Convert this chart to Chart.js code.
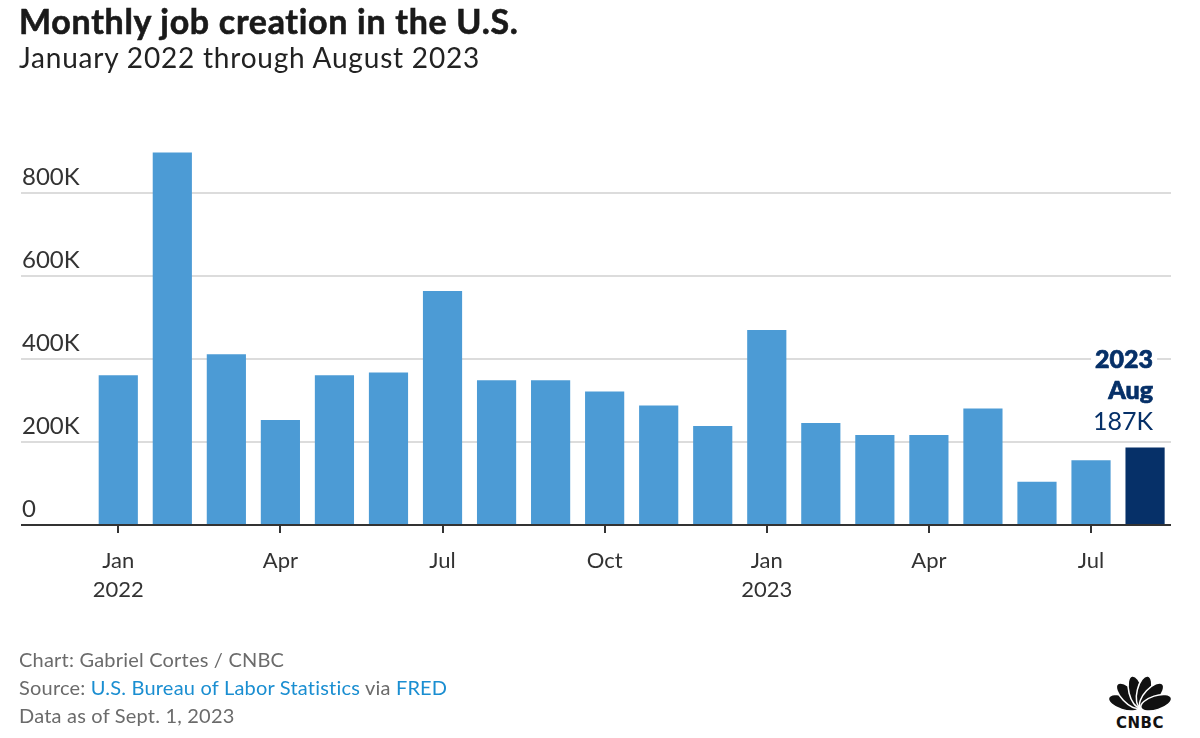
<!DOCTYPE html>
<html>
<head>
<meta charset="utf-8">
<script src="https://cdn.jsdelivr.net/npm/chart.js@4.4.0/dist/chart.umd.min.js"></script>
<style>
  html, body { margin: 0; padding: 0; background: #fff; }
  body { width: 1200px; height: 738px; position: relative; overflow: hidden; font-family: Lato, "Noto Sans", sans-serif; }
  #chart { position: absolute; left: 0; top: 0; }
  .txt { position: absolute; left: 19px; line-height: 1; white-space: nowrap; }
  #title { top: 4px; font-size: 34px; font-weight: 700; color: #1a1a1a; letter-spacing: 0.7px; -webkit-text-stroke: 0.6px #1a1a1a; }
  #subtitle { top: 43px; font-size: 28px; color: #222; letter-spacing: 0.8px; }
  .foot { font-size: 20px; color: #6b6b6b; letter-spacing: 0.2px; }
  .foot a { color: #1a8ed1; text-decoration: none; }
  #logo { position: absolute; left: 1104px; top: 668px; }
</style>
</head>
<body>
<canvas id="chart" width="1200" height="738"></canvas>
<div class="txt" id="title">Monthly job creation in the U.S.</div>
<div class="txt" id="subtitle">January 2022 through August 2023</div>
<div class="txt foot" style="top:649px">Chart: Gabriel Cortes / CNBC</div>
<div class="txt foot" style="top:677px">Source: <a>U.S. Bureau of Labor Statistics</a> via <a>FRED</a></div>
<div class="txt foot" style="top:705px">Data as of Sept. 1, 2023</div>
<svg id="logo" width="72" height="64" viewBox="0 0 72 64">
  <g fill="#111" stroke="#fff" stroke-width="1.5">
    <ellipse cx="36" cy="23" rx="7" ry="16" transform="rotate(-72 36 40)"/>
    <ellipse cx="36" cy="23" rx="7" ry="16" transform="rotate(-43 36 40)"/>
    <ellipse cx="36" cy="23" rx="7" ry="16" transform="rotate(-14 36 40)"/>
    <ellipse cx="36" cy="23" rx="7" ry="16" transform="rotate(14 36 40)"/>
    <ellipse cx="36" cy="23" rx="7" ry="16" transform="rotate(43 36 40)"/>
    <ellipse cx="36" cy="23" rx="7" ry="16" transform="rotate(72 36 40)"/>
  </g>
  <rect x="0" y="44" width="72" height="20" fill="#fff"/>
  <text x="36" y="60" text-anchor="middle" font-family="'DejaVu Sans', sans-serif" font-weight="700" font-size="15" letter-spacing="0.5" fill="#111">CNBC</text>
</svg>
<script>
// monthly payroll change, thousands of jobs
const months = ['Jan 2022', 'Feb 2022', 'Mar 2022', 'Apr 2022', 'May 2022', 'Jun 2022', 'Jul 2022', 'Aug 2022', 'Sep 2022', 'Oct 2022',
  'Nov 2022', 'Dec 2022', 'Jan 2023', 'Feb 2023', 'Mar 2023', 'Apr 2023', 'May 2023', 'Jun 2023', 'Jul 2023', 'Aug 2023'];
const jobs = [361, 898, 412, 253, 361, 368, 564, 349, 349, 322, 288, 239, 470, 246, 217, 217, 281, 104, 156, 187];

const xTickIndex = [0, 3, 6, 9, 12, 15, 18];
const xTickLabels = [['Jan', '2022'], 'Apr', 'Jul', 'Oct', ['Jan', '2023'], 'Apr', 'Jul'];
const yTicks = [0, 200, 400, 600, 800];

const lightBlue = '#4c9bd5';
const navy = '#063068';
const last = jobs.length - 1;

// dark baseline on top of the bars
const baseline = {
  id: 'baseline',
  afterDatasetsDraw(chart) {
    const { ctx, chartArea } = chart;
    const y = chart.scales.y.getPixelForValue(0);
    ctx.save();
    ctx.strokeStyle = '#333';
    ctx.lineWidth = 2;
    ctx.beginPath();
    ctx.moveTo(chartArea.left, y);
    ctx.lineTo(chartArea.right, y);
    ctx.stroke();
    ctx.restore();
  }
};

// label over the latest month
const lastLabel = {
  id: 'lastLabel',
  afterDatasetsDraw(chart) {
    const { ctx } = chart;
    const bar = chart.getDatasetMeta(0).data[last];
    const right = bar.x + 8;
    const base = bar.y - 17;
    const parts = months[last].split(' ');
    const lines = [
      { t: parts[1], f: '900 25px Lato' },
      { t: parts[0], f: '900 25px Lato' },
      { t: jobs[last] + 'K', f: '400 25px Lato' }
    ];
    ctx.save();
    ctx.textAlign = 'right';
    ctx.textBaseline = 'alphabetic';
    lines.forEach((l, i) => {
      const y = base - (lines.length - 1 - i) * 31;
      ctx.font = l.f;
      const w = ctx.measureText(l.t).width;
      ctx.fillStyle = '#fff';
      ctx.fillRect(right - w - 4, y - 20, w + 8, 25);
      ctx.fillStyle = navy;
      ctx.fillText(l.t, right, y);
      if (i < 2) {
        ctx.strokeStyle = navy;
        ctx.lineWidth = 0.7;
        ctx.strokeText(l.t, right, y);
      }
    });
    ctx.restore();
  }
};

new Chart(document.getElementById('chart').getContext('2d'), {
  type: 'bar',
  data: {
    datasets: [{
      data: jobs.map((v, i) => ({ x: i, y: v })),
      backgroundColor: jobs.map((v, i) => i === last ? navy : lightBlue),
      categoryPercentage: 1,
      barPercentage: 0.725
    }]
  },
  options: {
    responsive: false,
    animation: false,
    layout: { padding: { left: 21, right: 29, top: 131, bottom: 113 } },
    plugins: {
      legend: { display: false },
      tooltip: { enabled: false }
    },
    scales: {
      x: {
        type: 'linear',
        offset: false,
        min: -1.8,
        max: 19.48,
        afterBuildTicks: (scale) => { scale.ticks = xTickIndex.map(v => ({ value: v })); },
        afterFit: (scale) => { scale.height = 100; },
        border: { display: false },
        grid: { offset: false, drawOnChartArea: false, drawTicks: true, tickLength: 8, color: '#333', lineWidth: 2 },
        ticks: {
          autoSkip: false,
          maxRotation: 0,
          padding: 13,
          color: '#333',
          font: { family: 'Lato', size: 22, lineHeight: 1.32 },
          callback: (value) => xTickLabels[xTickIndex.indexOf(value)]
        }
      },
      y: {
        min: 0,
        max: 950,
        afterBuildTicks: (scale) => { scale.ticks = yTicks.map(v => ({ value: v })); },
        afterFit: (scale) => { scale.width = 0; },
        border: { display: false },
        grid: { drawTicks: false, color: (c) => c.tick && c.tick.value === 0 ? 'rgba(0,0,0,0)' : '#dcdcdc', lineWidth: 2 },
        ticks: {
          mirror: true,
          padding: 1,
          labelOffset: -16,
          color: '#333',
          font: { family: 'Lato', size: 24 },
          callback: (value) => value === 0 ? '0' : value + 'K'
        }
      }
    }
  },
  plugins: [baseline, lastLabel]
});
</script>
</body>
</html>
